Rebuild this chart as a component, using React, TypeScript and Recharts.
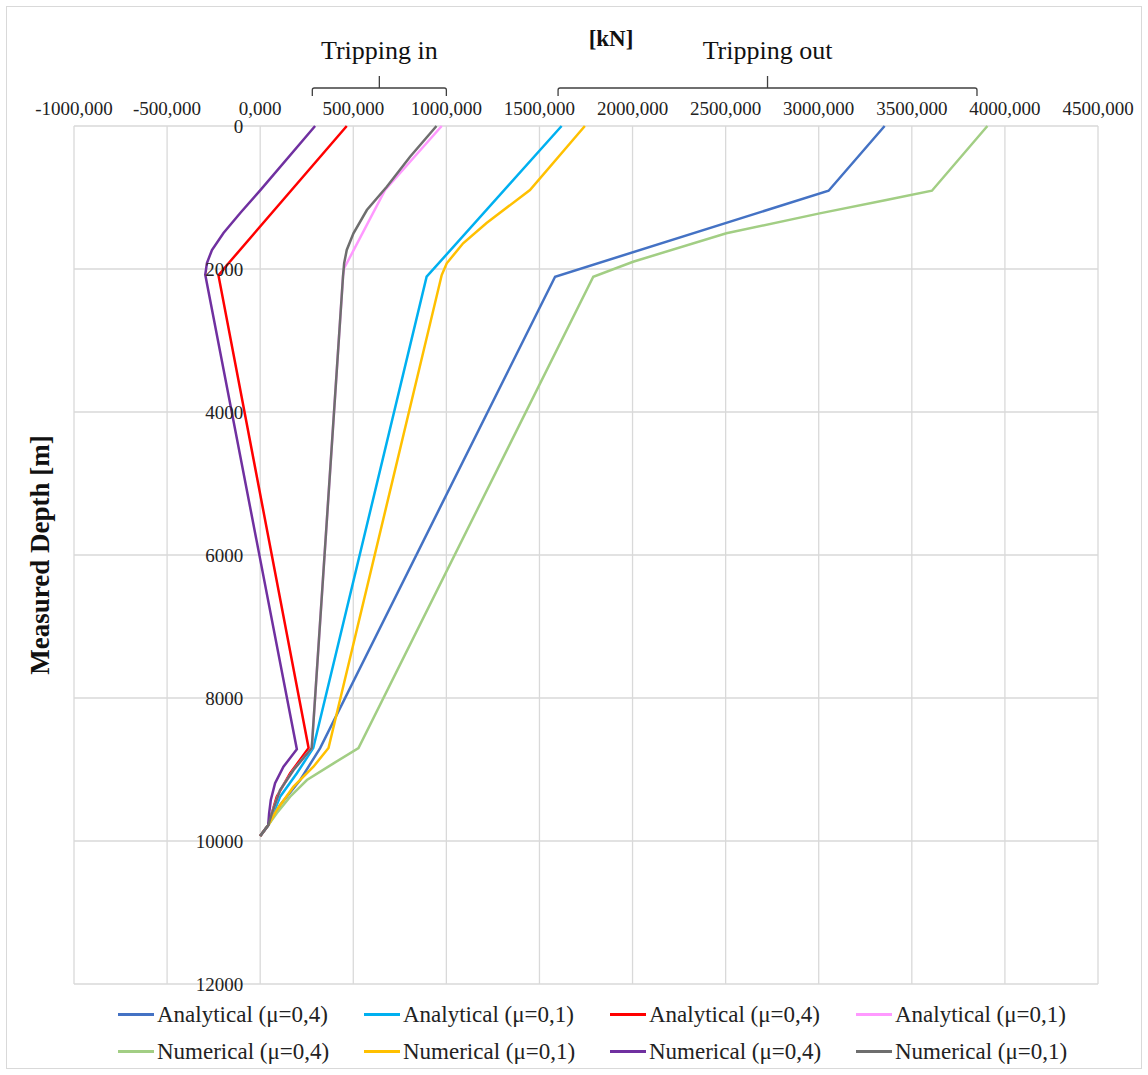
import React from "react";
import { CartesianGrid, Scatter, ScatterChart, XAxis, YAxis } from "recharts";

// force [kN] vs measured depth [m]
type Pt = { x: number; y: number };
const pts = (rows: number[][]): Pt[] => rows.map(([x, y]) => ({ x, y }));

const analyticalOut04 = pts([
  [3354, 0], [3053, 905], [1584, 2108], [322, 8700], [215, 9147], [107, 9497], [43, 9780], [0, 9930],
]);
const analyticalOut01 = pts([
  [1619, 0], [894, 2108], [285, 8700], [197, 9053], [107, 9380], [43, 9780], [0, 9930],
]);
const analyticalIn04 = pts([
  [465, 0], [-170, 1920], [-224, 2090], [260, 8700], [161, 9053], [89, 9380], [43, 9780], [0, 9930],
]);
const analyticalIn01 = pts([
  [975, 0], [671, 895], [451, 1990], [445, 2100], [277, 8700], [179, 9007], [107, 9287], [63, 9613], [43, 9780], [0, 9930],
]);
const numericalOut04 = pts([
  [3906, 0], [3608, 905], [3363, 1035], [3005, 1222], [2504, 1501], [2003, 1898], [1789, 2108],
  [528, 8700], [394, 8914], [251, 9147], [161, 9380], [89, 9613], [43, 9780], [0, 9930],
]);
const numericalOut01 = pts([
  [1744, 0], [1449, 895], [1216, 1357], [1090, 1640], [1002, 1920], [975, 2085],
  [367, 8700], [286, 8961], [179, 9240], [89, 9566], [43, 9780], [0, 9930],
]);
const numericalIn04 = pts([
  [295, 0], [0, 900], [-107, 1217], [-197, 1497], [-259, 1734], [-286, 1916], [-295, 2080],
  [197, 8717], [125, 8961], [80, 9193], [57, 9427], [48, 9613], [43, 9780], [0, 9930],
]);
const numericalIn01 = pts([
  [947, 0], [805, 429], [680, 849], [573, 1175], [501, 1501], [465, 1734], [451, 1920], [445, 2100],
  [277, 8700], [179, 9007], [107, 9287], [63, 9613], [43, 9780], [0, 9930],
]);

const series = [
  { name: "Analytical (μ=0,4)", data: analyticalOut04, color: "#4472C4" },
  { name: "Analytical (μ=0,1)", data: analyticalOut01, color: "#00B0F0" },
  { name: "Analytical (μ=0,4)", data: analyticalIn04, color: "#FF0000" },
  { name: "Analytical (μ=0,1)", data: analyticalIn01, color: "#FF99FF" },
  { name: "Numerical (μ=0,4)", data: numericalOut04, color: "#A2CE84" },
  { name: "Numerical (μ=0,1)", data: numericalOut01, color: "#FFC000" },
  { name: "Numerical (μ=0,4)", data: numericalIn04, color: "#7030A0" },
  { name: "Numerical (μ=0,1)", data: numericalIn01, color: "#6E6E6E" },
];

const forceTicks = [-1000, -500, 0, 500, 1000, 1500, 2000, 2500, 3000, 3500, 4000, 4500];
const depthTicks = [0, 2000, 4000, 6000, 8000, 10000, 12000];

// bracket ranges on the force axis
const trippingIn = { label: "Tripping in", from: 280, to: 1000, mid: 640 };
const trippingOut = { label: "Tripping out", from: 1600, to: 3850, mid: 2725 };

const W = 1148;
const H = 1075;
const Y_AXIS_W = 1;
const margin = { top: 96, right: 50, bottom: 91, left: 73 };
const X_MIN = -1000;
const X_MAX = 4500;
const plotLeft = margin.left + Y_AXIS_W;
const plotW = W - plotLeft - margin.right;
const px = (v: number) => plotLeft + ((v - X_MIN) / (X_MAX - X_MIN)) * plotW;

const serif = '"Liberation Serif", "Times New Roman", serif';
const fmt = (v: number) => v.toFixed(3).replace(".", ",");

const renderDepthTick = (props: any) => {
  const { y, payload } = props;
  return (
    <text
      x={px(0) - 17}
      y={y}
      textAnchor="end"
      dominantBaseline="central"
      fontFamily={serif}
      fontSize={19}
      fill="#222"
    >
      {payload.value}
    </text>
  );
};

function Bracket({ from, to, mid, label }: typeof trippingIn) {
  const a = px(from);
  const b = px(to);
  const m = px(mid);
  return (
    <g>
      <path
        d={`M${a},96 L${a},90 Q${a},88 ${a + 2},88 L${b - 2},88 Q${b},88 ${b},90 L${b},96 M${m},88 L${m},76`}
        fill="none"
        stroke="#404040"
        strokeWidth={1.3}
      />
      <text x={m} y={50} textAnchor="middle" dominantBaseline="central" fontFamily={serif} fontSize={26} fill="#111">
        {label}
      </text>
    </g>
  );
}

export default function App() {
  return (
    <div style={{ position: "absolute", left: 0, top: 0, width: W, height: H, background: "#fff" }}>
      <div
        style={{
          position: "absolute",
          left: 6,
          top: 6,
          width: W - 12,
          height: H - 12,
          border: "1px solid #d9d9d9",
          boxSizing: "border-box",
        }}
      />
      <ScatterChart width={W} height={H} margin={margin}>
        <CartesianGrid stroke="#d9d9d9" strokeWidth={1.3} />
        <XAxis
          type="number"
          dataKey="x"
          orientation="top"
          domain={[X_MIN, X_MAX]}
          ticks={forceTicks}
          tickFormatter={fmt}
          axisLine={false}
          tickLine={false}
          tickSize={0}
          tickMargin={11}
          height={30}
          tick={{ fontFamily: serif, fontSize: 19, fill: "#222" }}
        />
        <YAxis
          type="number"
          dataKey="y"
          reversed
          domain={[0, 12000]}
          ticks={depthTicks}
          width={Y_AXIS_W}
          axisLine={false}
          tickLine={false}
          tick={renderDepthTick}
        />
        {series.map((s, i) => (
          <Scatter
            key={i}
            name={s.name}
            data={s.data}
            line={{ stroke: s.color, strokeWidth: 2.5 }}
            lineJointType="linear"
            shape={() => <g />}
            isAnimationActive={false}
          />
        ))}
      </ScatterChart>
      <svg
        width={W}
        height={H}
        style={{ position: "absolute", left: 0, top: 0, pointerEvents: "none" }}
      >
        <Bracket {...trippingIn} />
        <Bracket {...trippingOut} />
        <text x={611} y={38} textAnchor="middle" dominantBaseline="central" fontFamily={serif} fontSize={23} fontWeight="bold" fill="#111">
          [kN]
        </text>
        <text
          x={40}
          y={555}
          transform="rotate(-90 40 555)"
          textAnchor="middle"
          dominantBaseline="central"
          fontFamily={serif}
          fontSize={27}
          fontWeight="bold"
          fill="#111"
        >
          Measured Depth [m]
        </text>
      </svg>
      <div
        style={{
          position: "absolute",
          left: 118,
          top: 1000,
          display: "grid",
          gridTemplateColumns: "repeat(4, 246px)",
          rowGap: 8,
          fontFamily: serif,
          fontSize: 23,
          color: "#222",
        }}
      >
        {series.map((s, i) => (
          <div key={i} style={{ display: "flex", alignItems: "center", height: 29 }}>
            <span style={{ display: "inline-block", width: 36, height: 3, background: s.color, marginRight: 3 }} />
            <span style={{ whiteSpace: "nowrap" }}>{s.name}</span>
          </div>
        ))}
      </div>
    </div>
  );
}
